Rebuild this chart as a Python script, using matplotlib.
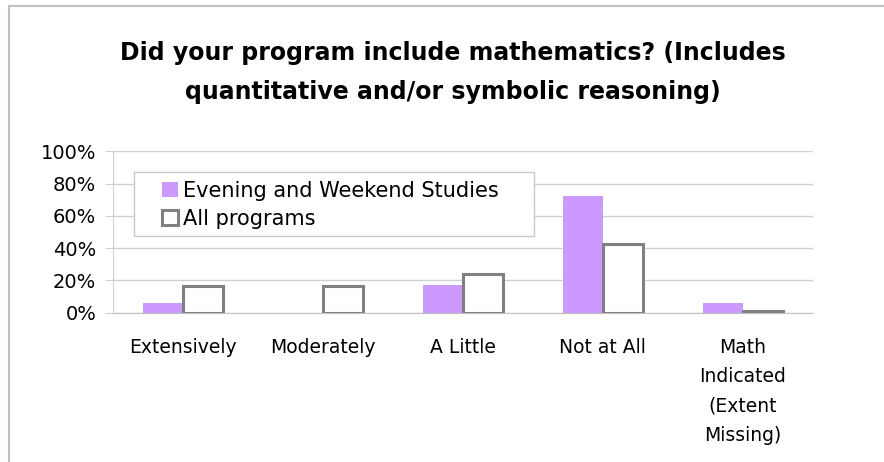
import numpy as np
import matplotlib
matplotlib.use('Agg')
import matplotlib.pyplot as plt
from matplotlib.lines import Line2D
from matplotlib.patches import Rectangle

# Data
categories = ['Extensively', 'Moderately', 'A Little', 'Not at All',
              'Math\nIndicated\n(Extent\nMissing)']
evening_weekend = [6.0, 0.0, 17.0, 72.3, 6.0]
all_programs = [16.7, 16.5, 23.8, 42.6, 1.2]
series_names = ['Evening and Weekend Studies', 'All programs']
y_ticks = [0, 20, 40, 60, 80, 100]

PURPLE = '#cc99ff'
EDGE_GRAY = '#808080'
GRID = '#d0d0d0'
BORDER = '#c0c0c0'

plt.rcParams['font.family'] = ['DejaVu Sans']

fig = plt.figure(figsize=(8.84, 4.62), dpi=100)
ax = fig.add_axes([0.1278, 0.3232, 0.7915, 0.3493])

x = np.arange(len(categories))
w = 0.286
ax.bar(x - w / 2, evening_weekend, w, color=PURPLE, edgecolor='none',
       label=series_names[0], zorder=3)
ax.bar(x + w / 2, all_programs, w, color='white', edgecolor=EDGE_GRAY,
       linewidth=2.2, label=series_names[1], zorder=3)

ax.set_xlim(-0.5, len(categories) - 0.5)
ax.set_ylim(0, 100)
ax.set_yticks(y_ticks)
ax.set_yticklabels([f'{t}%' for t in y_ticks], fontsize=14)
ax.set_xticks(x)
ax.set_xticklabels(categories, fontsize=13.5, linespacing=1.7, va='top')
ax.tick_params(axis='x', length=0, pad=18)
ax.tick_params(axis='y', length=6, color=GRID, pad=6)

ax.grid(axis='y', color=GRID, linewidth=1, zorder=0)
for side in ['top', 'right']:
    ax.spines[side].set_visible(False)
ax.spines['left'].set_color(GRID)
ax.spines['bottom'].set_color(BORDER)
ax.spines['bottom'].set_zorder(4)

# Legend box (white, light gray edge) drawn separately so the entries can sit inset
ax.add_patch(Rectangle((0.1516, 0.4892), 0.4525, 0.1392, transform=fig.transFigure,
                       facecolor='white', edgecolor='#c8c8c8', linewidth=1,
                       zorder=4, clip_on=False))
ax.legend(loc='upper left', bbox_to_anchor=(0.1829, 0.609),
          bbox_transform=fig.transFigure, borderaxespad=0, borderpad=0,
          fontsize=15, frameon=False, handlelength=0.77, handleheight=0.77,
          handletextpad=0.27, labelspacing=0.38)

fig.text(0.5125, 0.843, 'Did your program include mathematics? (Includes\n'
         'quantitative and/or symbolic reasoning)',
         ha='center', va='center', fontsize=17, fontweight='bold',
         linespacing=1.8)

# Chart area border (only left and top edges are visible in the crop)
fig.add_artist(Line2D([0.0102, 0.0102], [0, 0.986], color=BORDER,
                      linewidth=1.5, transform=fig.transFigure))
fig.add_artist(Line2D([0.0102, 1.0], [0.986, 0.986], color=BORDER,
                      linewidth=1.5, transform=fig.transFigure))

fig.savefig('out.png', dpi=100, facecolor='white')
